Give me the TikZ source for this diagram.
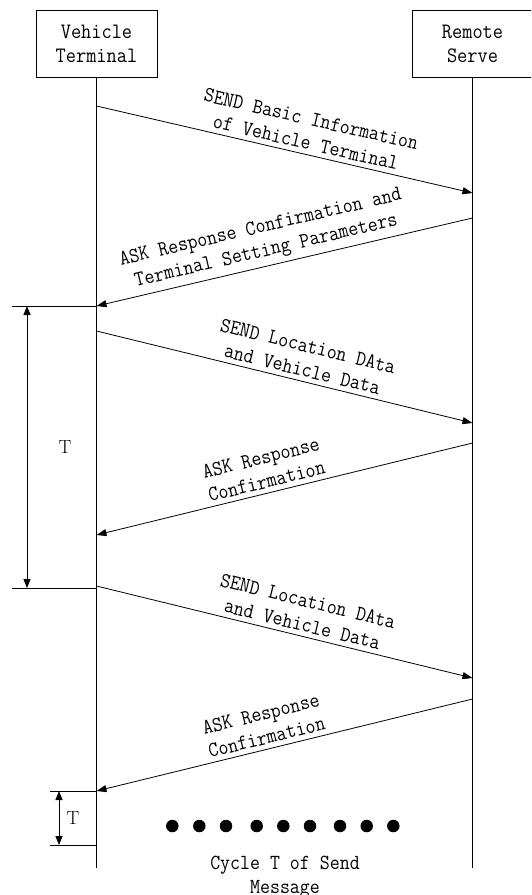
\documentclass[tikz,border=0pt]{standalone}
\usepackage{fontspec}
\newfontfamily\msgfont{Latin Modern Mono}[FakeStretch=0.9]
\usetikzlibrary{arrows.meta}
\begin{document}
\begin{tikzpicture}[x=1pt,y=-1pt, line width=0.8pt,
  party/.style={draw, minimum width=121pt, minimum height=67pt,
    align=center, inner sep=0pt, font=\msgfont\fontsize{22}{24}\selectfont},
  msg/.style={-{Triangle[length=10pt,width=7pt]}},
  span/.style={{Triangle[length=9pt,width=7pt]}-{Triangle[length=9pt,width=7pt]}},
  lbl/.style={sloped, above, align=center, inner xsep=1pt, inner ysep=4.5pt,
    font=\msgfont\fontsize{21.5}{24}\selectfont},
  tlbl/.style={font=\rmfamily\fontsize{19}{22}\selectfont},
  dot/.style={circle, fill=black, minimum size=12.5pt, inner sep=0pt}]
\useasboundingbox (0,0) rectangle (531,895);
\begin{scope}
\clip (0,0) rectangle (531,895);

% participants
\node[party] (vt) at (96.5,44.3) {Vehicle\\Terminal};
\node[party] (rs) at (472.5,44.3) {Remote\\Serve};

% lifeline ends
\coordinate (vtEnd) at (96.5,868);
\coordinate (rsEnd) at (472.5,868);
\draw (vt.south) -- (vtEnd);
\draw (rs.south) -- (rsEnd);

% message end points on the lifelines
\coordinate (a1) at (96.5,106);  \coordinate (b1) at (472.5,193);
\coordinate (b2) at (472.5,218); \coordinate (a2) at (96.5,306);
\coordinate (a3) at (96.5,331);  \coordinate (b3) at (472.5,423);
\coordinate (b4) at (472.5,443); \coordinate (a4) at (96.5,535);
\coordinate (a5) at (96.5,586);  \coordinate (b5) at (472.5,678);
\coordinate (b6) at (472.5,699); \coordinate (a6) at (96.5,791);

% messages
\draw[msg] (a1) -- (b1) node[lbl, pos=0.55] {SEND Basic Information\\of Vehicle Terminal};
\draw[msg] (b2) -- (a2) node[lbl, pos=0.54] {ASK Response Confirmation and\\Terminal Setting Parameters};
\draw[msg] (a3) -- (b3) node[lbl, pos=0.54] {SEND Location DAta\\and Vehicle Data};
\draw[msg] (b4) -- (a4) node[lbl, pos=0.54] {ASK Response\\Confirmation};
\draw[msg] (a5) -- (b5) node[lbl, pos=0.54] {SEND Location DAta\\and Vehicle Data};
\draw[msg] (b6) -- (a6) node[lbl, pos=0.54] {ASK Response\\Confirmation};

% period marks
\coordinate (p1) at (12,306);  \coordinate (p1r) at (96.5,306);
\coordinate (p2) at (12,588);  \coordinate (p2r) at (96.5,588);
\draw (p1) -- (p1r);
\draw (p2) -- (p2r);
\coordinate (s1) at (27,306); \coordinate (s2) at (27,588);
\draw[span] (s1) -- (s2);
\node[tlbl] (tbig) at (65,447) {T};

\coordinate (q1) at (50,791);  \coordinate (q1r) at (96.5,791);
\coordinate (q2) at (50,845);  \coordinate (q2r) at (96.5,845);
\draw (q1) -- (q1r);
\draw (q2) -- (q2r);
\coordinate (u1) at (59,791); \coordinate (u2) at (59,845);
\draw[span] (u1) -- (u2);
\node[tlbl] (tsmall) at (73,818) {T};

% continuation dots
\foreach \x [count=\i] in {172.3,199.3,226,256.7,283.3,310,340,366.7,393.3}
  \node[dot] (d\i) at (\x,826) {};

\node[align=center, font=\msgfont\fontsize{21.5}{24}\selectfont] (cap) at (285,877)
  {Cycle T of Send\\Message};
\end{scope}
\end{tikzpicture}
\end{document}
